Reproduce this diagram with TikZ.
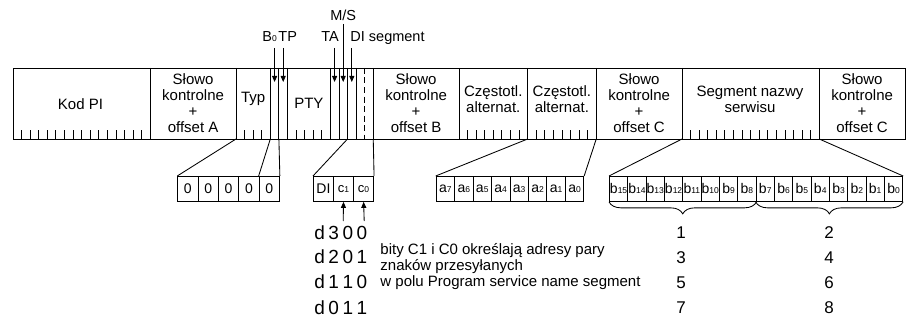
\documentclass[tikz,border=0pt]{standalone}
\usepackage{fontspec}
\setmainfont{Liberation Sans}
\usetikzlibrary{arrows.meta,decorations.pathreplacing}
\newcommand\fs[2]{\fontsize{#1}{#2}\selectfont}
\newcommand\sbx[1]{{\fontsize{8.5}{8.5}\selectfont #1}}
\begin{document}
\begin{tikzpicture}[x=1pt,y=-1pt,line width=0.85pt,
  lbl/.style={inner sep=0pt, align=center, font=\fs{15}{16}},
  tl/.style={inner sep=0pt, font=\fs{14.5}{16}},
  bitbox/.style={draw, inner sep=0pt, minimum height=25pt, anchor=north west, font=\fs{14}{14}},
  arr/.style={-{Triangle[length=6pt,width=5pt]}},
  dl/.style={inner sep=0pt, anchor=base west, font=\fs{19}{19}},
  num/.style={inner sep=0pt, anchor=base, font=\fs{17}{17}},
  desc/.style={inner sep=0pt, anchor=base west, font=\fs{15}{16}}]
\useasboundingbox (0,0) rectangle (913,321);
% main bar
\draw (13,68) rectangle (905,139);
\foreach \k in {16,26,30,31,32,37,38,39,40,42,52,60,68,78,94}
  \draw ({13+\k*8.577},68) -- ({13+\k*8.577},139);
\draw[dash pattern=on 6pt off 3.5pt] ({13+41*8.577},68) -- ({13+41*8.577},139);
% ticks
\foreach \k in {1,...,15} \draw ({13+\k*8.577},139) -- ({13+\k*8.577},130);
\foreach \k in {27,28,29} \draw ({13+\k*8.577},139) -- ({13+\k*8.577},130);
\foreach \k in {33,...,36} \draw ({13+\k*8.577},139) -- ({13+\k*8.577},130);
\foreach \k in {53,...,59} \draw ({13+\k*8.577},139) -- ({13+\k*8.577},130);
\foreach \k in {61,...,67} \draw ({13+\k*8.577},139) -- ({13+\k*8.577},130);
\foreach \k in {79,...,93} \draw ({13+\k*8.577},139) -- ({13+\k*8.577},130);
% field texts
\node[lbl] (pi) at (80.5,104) {Kod PI};
\node[lbl] (ckA) at (193.1,103.5) {Słowo\\kontrolne\\+\\offset A};
\node[lbl] (typ) at (253.2,99) {Typ};
\node[lbl] (pty) at (308.9,103) {PTY};
\node[lbl] (ckB) at (416.1,103.5) {Słowo\\kontrolne\\+\\offset B};
\node[lbl] (af1) at (493.3,99) {Częstotl.\\alternat.};
\node[lbl] (af2) at (561.9,99) {Częstotl.\\alternat.};
\node[lbl] (ckC) at (639.1,103.5) {Słowo\\kontrolne\\+\\offset C};
\node[lbl] (ps) at (750,99) {Segment nazwy\\serwisu};
\node[lbl] (ckD) at (862.1,103.5) {Słowo\\kontrolne\\+\\offset C};
% top labels
\node[tl, anchor=base west] (lB0) at (262,41.7) {B\sbx{0}};
\node[tl, anchor=base west] (lTP) at (278,41.7) {TP};
\node[tl, anchor=base west] (lTA) at (321,41.7) {TA};
\node[tl, anchor=base] (lMS) at (343.2,21) {M/S};
\node[tl, anchor=base west] (lDI) at (350,41.7) {DI segment};
\coordinate (sB0) at (274.6,48); \coordinate (eB0) at (274.6,82);
\coordinate (sTP) at (283.2,48); \coordinate (eTP) at (283.2,82);
\coordinate (sTA) at (334.6,48); \coordinate (eTA) at (334.6,82);
\coordinate (sMS) at (343.2,24); \coordinate (eMS) at (343.2,82);
\coordinate (sDI) at (351.8,48); \coordinate (eDI) at (351.8,82);
\draw[arr] (sB0) -- (eB0);
\draw[arr] (sTP) -- (eTP);
\draw[arr] (sTA) -- (eTA);
\draw[arr] (sMS) -- (eMS);
\draw[arr] (sDI) -- (eDI);
% lower boxes
\foreach \i in {1,...,5}
  \node[bitbox, minimum width=20.35pt] (z\i) at ({177.25+(\i-1)*20.35},176) {0};
\node[bitbox, minimum width=20.07pt] (di) at (313,176) {DI};
\node[bitbox, minimum width=20.07pt] (c1) at (333.07,176) {\fs{13}{13}c\sbx{1}};
\node[bitbox, minimum width=20.07pt] (c0) at (353.14,176) {\fs{13}{13}c\sbx{0}};
\foreach \i in {0,...,7} {
  \pgfmathtruncatemacro\n{7-\i}
  \node[bitbox, minimum width=18.45pt] (a\n) at ({435.7+\i*18.45},176) {a\sbx{\n}};
}
\foreach \i in {0,...,15} {
  \pgfmathtruncatemacro\n{15-\i}
  \node[bitbox, minimum width=18.33pt] (b\n) at ({609+\i*18.33},176) {b\sbx{\n}};
}
% fan lines
\coordinate (k26) at ({13+26*8.577},139);
\coordinate (k30) at ({13+30*8.577},139);
\coordinate (k31) at ({13+31*8.577},139);
\coordinate (k39) at ({13+39*8.577},139);
\coordinate (k42) at ({13+42*8.577},139);
\coordinate (k60) at ({13+60*8.577},139);
\coordinate (k68) at ({13+68*8.577},139);
\coordinate (k78) at ({13+78*8.577},139);
\coordinate (k94) at ({13+94*8.577},139);
\draw (k26) -- (z1.north west);
\draw (k30) -- (z5.north west);
\draw (k31) -- (z5.north east);
\draw (k39) -- (di.north west);
\draw (k42) -- (c0.north east);
\draw (k60) -- (a7.north west);
\draw (k68) -- (a0.north east);
\draw (k78) -- (b15.north west);
\draw (k94) -- (b0.north east);
% arrows to c1 c0
\coordinate (uc1) at (343.2,221); \coordinate (uc0) at (364.2,221);
\draw[arr] (uc1) -- (c1.south);
\draw[arr] (uc0) -- (c0.south);
% braces
\draw[decorate, decoration={brace, mirror, amplitude=12pt}] (b15.south west) -- (b8.south east);
\draw[decorate, decoration={brace, mirror, amplitude=12pt}] (b7.south west) -- (b0.south east);
% codes
\node[dl] (d1) at (314,239) {d\hspace{3.5pt}3\hspace{3.5pt}0\hspace{3.5pt}0};
\node[dl] (d2) at (314,263.5) {d\hspace{3.5pt}2\hspace{3.5pt}0\hspace{3.5pt}1};
\node[dl] (d3) at (314,288) {d\hspace{3.5pt}1\hspace{3.5pt}1\hspace{3.5pt}0};
\node[dl] (d4) at (314,314) {d\hspace{3.5pt}0\hspace{3.5pt}1\hspace{3.5pt}1};
\node[desc] (t1) at (380,254.3) {bity C1 i C0 określają adresy pary};
\node[desc] (t2) at (380,270.5) {znaków przesyłanych};
\node[desc] (t3) at (380,286.5) {w polu Program service name segment};
\node[num] (n1) at (681,238) {1};
\node[num] (n3) at (681,263) {3};
\node[num] (n5) at (681,288) {5};
\node[num] (n7) at (681,313) {7};
\node[num] (n2) at (829,238) {2};
\node[num] (n4) at (829,263) {4};
\node[num] (n6) at (829,288) {6};
\node[num] (n8) at (829,313) {8};
\end{tikzpicture}
\end{document}
